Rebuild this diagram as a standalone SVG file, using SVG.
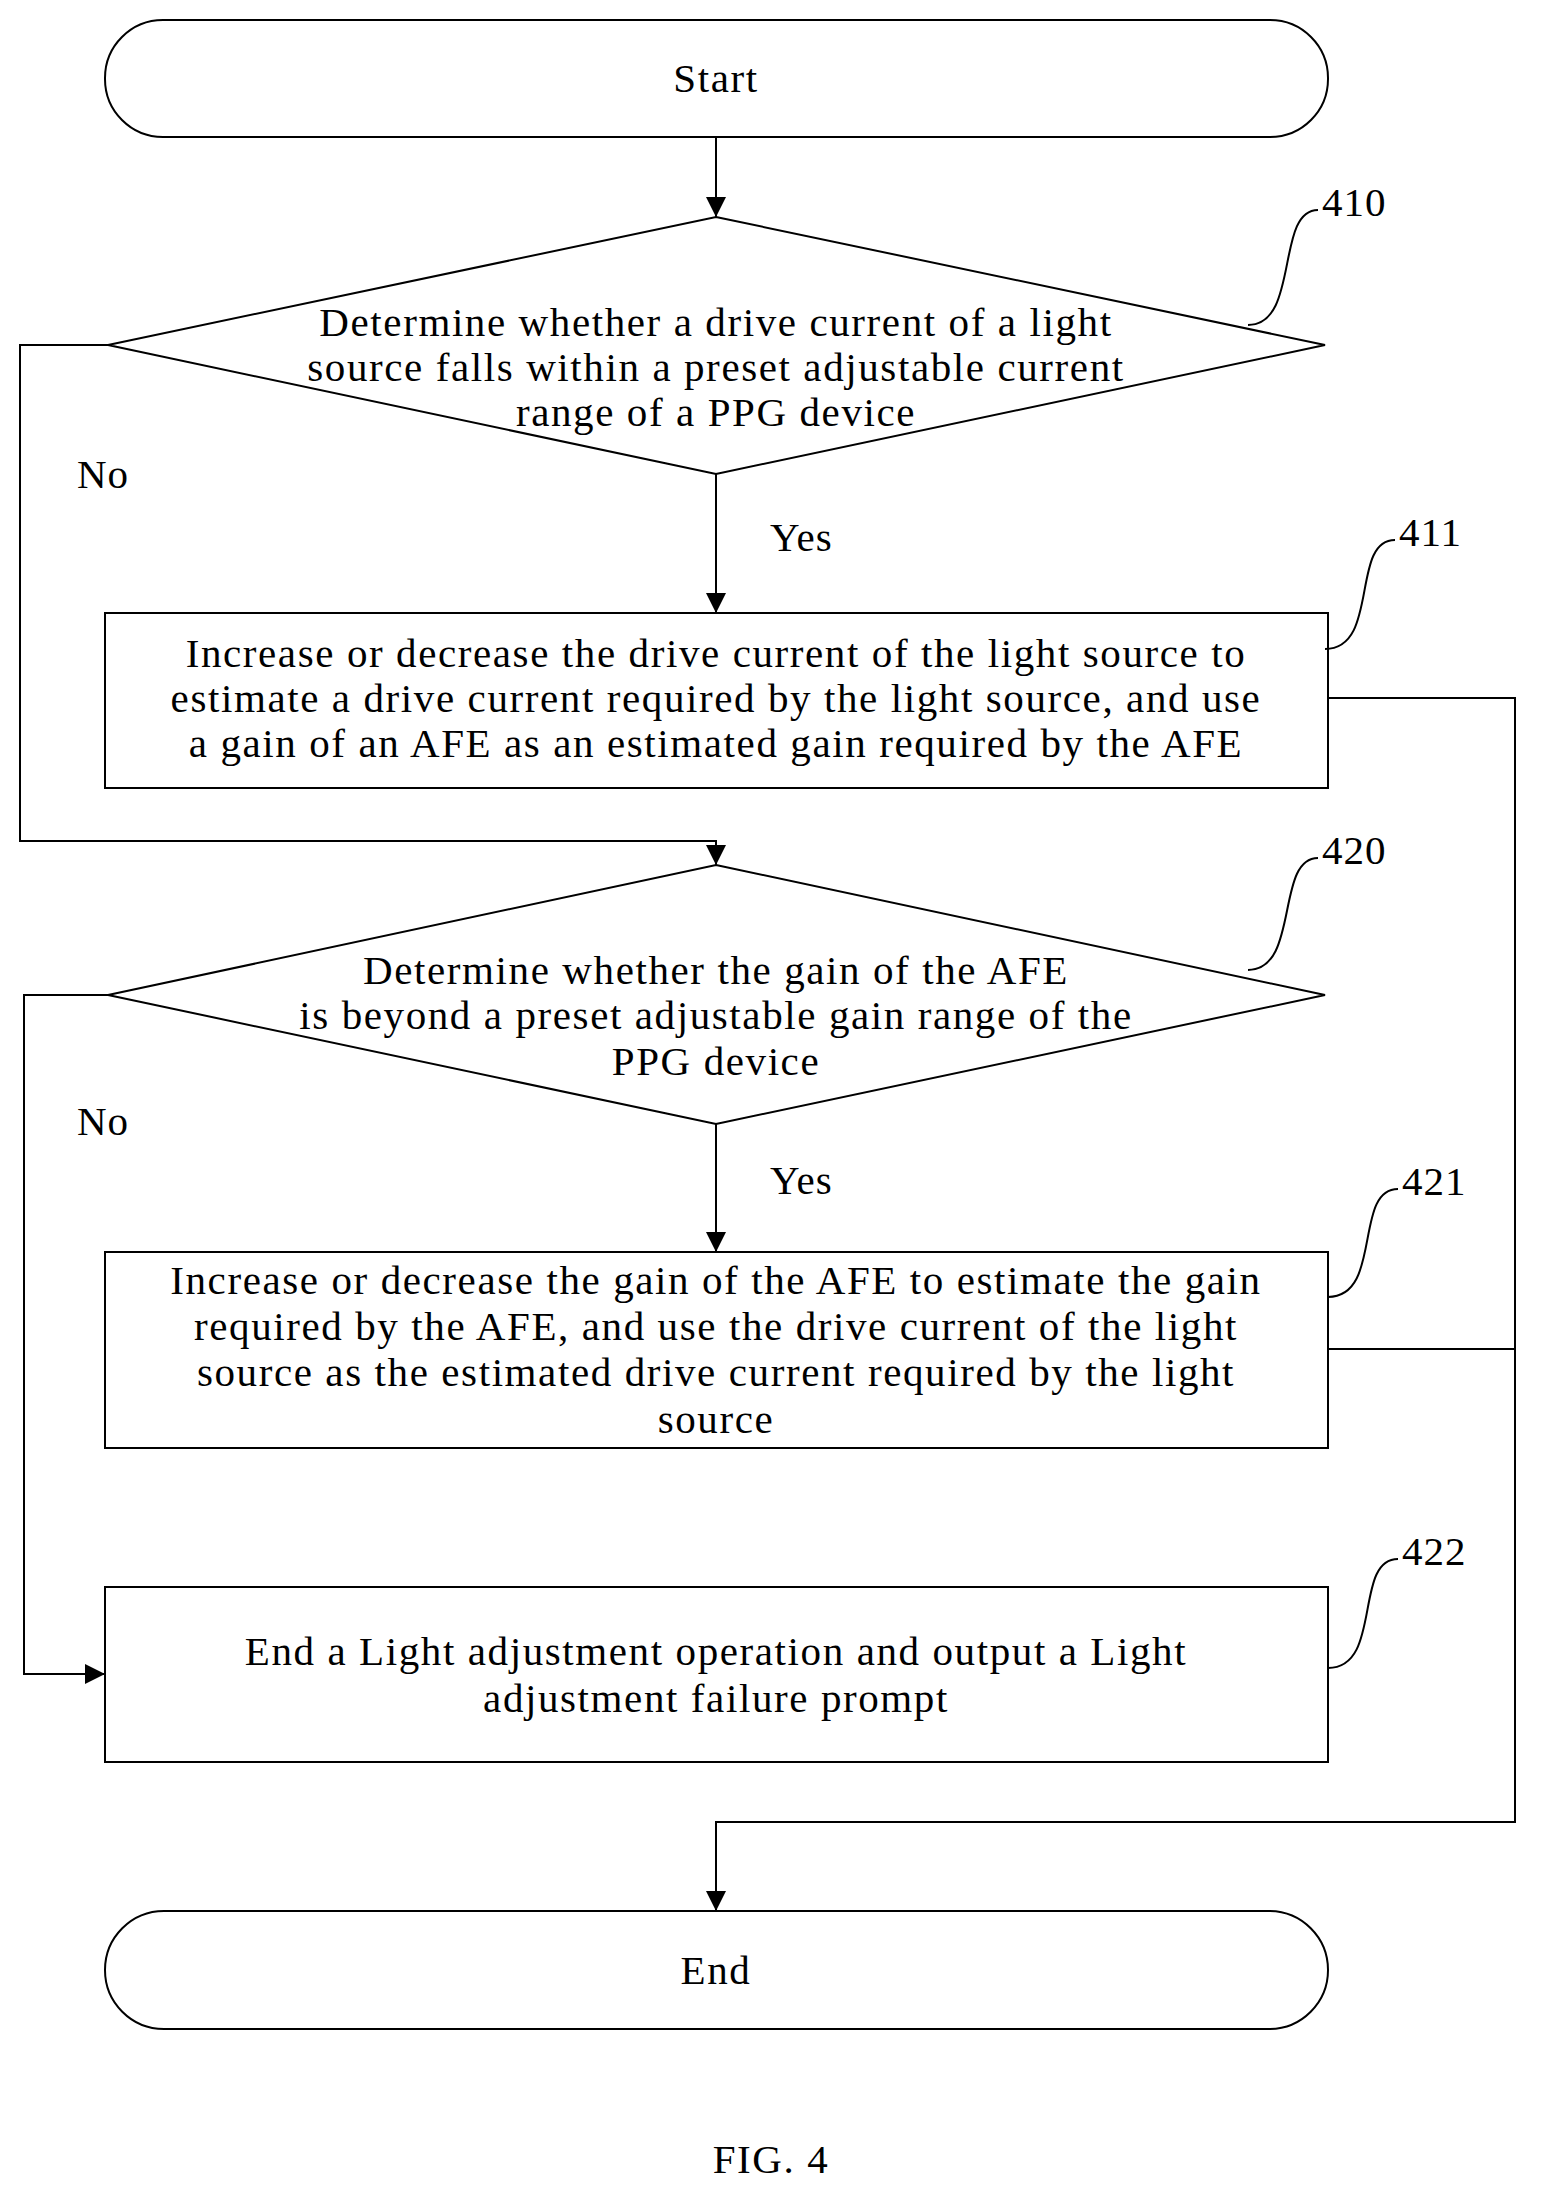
<svg xmlns="http://www.w3.org/2000/svg" width="1542" height="2207" viewBox="0 0 1542 2207">
<style>
.s{fill:none;stroke:#000;stroke-width:2}
.t{font-family:"Liberation Serif",serif;font-size:41px;letter-spacing:1.6px;text-anchor:middle;fill:#000}
.l{font-family:"Liberation Serif",serif;font-size:41px;letter-spacing:1px;fill:#000}
</style>
<defs><marker id="a" viewBox="0 0 10 10" refX="10" refY="5" markerWidth="22" markerHeight="20" markerUnits="userSpaceOnUse" orient="auto"><path d="M0,0L10,5L0,10z"/></marker></defs>
<g id="start"><rect class="s" x="105" y="20" width="1223" height="117" rx="58"/><text class="t" x="716" y="92">Start</text></g>
<g id="n410"><polygon class="s" points="716,217 1325,345 716,474 108,345"/>
<text class="t" x="716" y="336">Determine whether a drive current of a light</text>
<text class="t" x="716" y="381">source falls within a preset adjustable current</text>
<text class="t" x="716" y="426">range of a PPG device</text>
<path class="s" d="M1248,325 C1300,325 1275,210 1318,210"/><text class="l" x="1322" y="216">410</text></g>
<g id="n411"><rect class="s" x="105" y="613" width="1223" height="175"/>
<text class="t" x="716" y="667">Increase or decrease the drive current of the light source to</text>
<text class="t" x="716" y="712">estimate a drive current required by the light source, and use</text>
<text class="t" x="716" y="757">a gain of an AFE as an estimated gain required by the AFE</text>
<path class="s" d="M1325,649 C1380,649 1350,540 1395,540"/><text class="l" x="1399" y="546">411</text></g>
<g id="n420"><polygon class="s" points="716,865 1325,995 716,1124 108,995"/>
<text class="t" x="716" y="984">Determine whether the gain of the AFE</text>
<text class="t" x="716" y="1029">is beyond a preset adjustable gain range of the</text>
<text class="t" x="716" y="1075">PPG device</text>
<path class="s" d="M1248,970 C1300,970 1275,858 1318,858"/><text class="l" x="1322" y="864">420</text></g>
<g id="n421"><rect class="s" x="105" y="1252" width="1223" height="196"/>
<text class="t" x="716" y="1294">Increase or decrease the gain of the AFE to estimate the gain</text>
<text class="t" x="716" y="1340">required by the AFE, and use the drive current of the light</text>
<text class="t" x="716" y="1386">source as the estimated drive current required by the light</text>
<text class="t" x="716" y="1433">source</text>
<path class="s" d="M1328,1297 C1383,1297 1353,1189 1398,1189"/><text class="l" x="1402" y="1195">421</text></g>
<g id="n422"><rect class="s" x="105" y="1587" width="1223" height="175"/>
<text class="t" x="716" y="1665">End a Light adjustment operation and output a Light</text>
<text class="t" x="716" y="1712">adjustment failure prompt</text>
<path class="s" d="M1328,1668 C1383,1668 1353,1559 1398,1559"/><text class="l" x="1402" y="1565">422</text></g>
<g id="end"><rect class="s" x="105" y="1911" width="1223" height="118" rx="59"/><text class="t" x="716" y="1984">End</text></g>
<g id="connectors">
<path class="s" d="M716,137V217" marker-end="url(#a)"/>
<path class="s" d="M716,474V613" marker-end="url(#a)"/>
<path class="s" d="M108,345H20V841H716V865" marker-end="url(#a)"/>
<path class="s" d="M716,1124V1252" marker-end="url(#a)"/>
<path class="s" d="M108,995H24V1674H105" marker-end="url(#a)"/>
<path class="s" d="M1328,698H1515V1822H716V1911" marker-end="url(#a)"/>
<path class="s" d="M1328,1349H1515"/>
<text class="l" x="77" y="488">No</text>
<text class="l" x="77" y="1135">No</text>
<text class="l" x="770" y="551">Yes</text>
<text class="l" x="770" y="1194">Yes</text>
</g>
<text class="t" x="771" y="2173">FIG. 4</text>
</svg>
